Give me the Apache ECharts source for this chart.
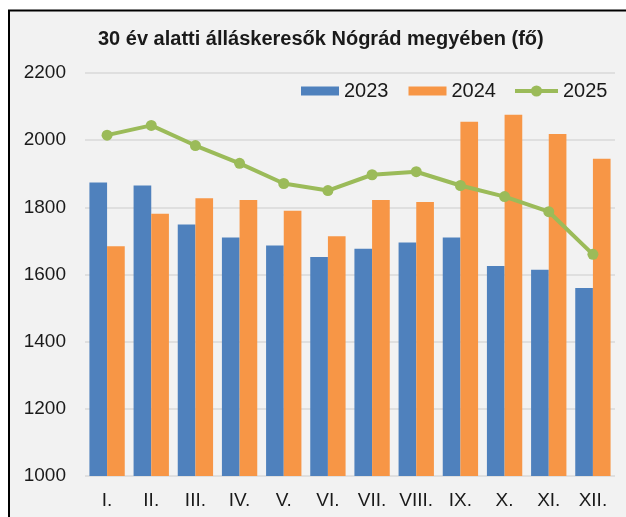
<!DOCTYPE html>
<html>
<head>
<meta charset="utf-8">
<script src="https://cdn.jsdelivr.net/npm/echarts@6/dist/echarts.min.js"></script>
<style>html,body{margin:0;padding:0;background:#fff}#c{width:626px;height:517px}</style>
</head>
<body>
<div id="c"></div>
<script>
var titleText = '30 év alatti álláskeresők Nógrád megyében (fő)';
var categories = ['I.', 'II.', 'III.', 'IV.', 'V.', 'VI.', 'VII.', 'VIII.', 'IX.', 'X.', 'XI.', 'XII.'];
var seriesNames = ['2023', '2024', '2025'];
var values2023 = [1874, 1865, 1749, 1710, 1686, 1652, 1677, 1695, 1710, 1625, 1614, 1560];
var values2024 = [1684, 1781, 1827, 1822, 1790, 1714, 1822, 1816, 2055, 2076, 2018, 1945];
var values2025 = [2015, 2044, 1984, 1931, 1871, 1850, 1897, 1906, 1865, 1832, 1787, 1660];
var yMin = 1000, yMax = 2200, yStep = 200;

var txt = '#1a1a1a';
var font = 'Liberation Sans, Arial, sans-serif';
var chart = echarts.init(document.getElementById('c'), null, {renderer: 'canvas'});
chart.setOption({
  backgroundColor: '#ffffff',
  animation: false,
  graphic: [
    {type: 'rect', z: -10, shape: {x: 9, y: 10.5, width: 640, height: 520}, style: {fill: '#f2f2f2', stroke: '#000', lineWidth: 2}}
  ],
  title: {
    text: titleText, left: 98, top: 29, padding: 0,
    textStyle: {fontFamily: font, fontSize: 20, fontWeight: 'bold', color: txt}
  },
  legend: [
    {
      left: 301, top: 81, padding: 0, itemWidth: 38, itemHeight: 9, itemGap: 20,
      data: [{name: seriesNames[0], icon: 'rect'}, {name: seriesNames[1], icon: 'rect'}],
      textStyle: {fontFamily: font, fontSize: 20, color: txt}
    },
    {
      left: 513, top: 81, padding: 0, itemWidth: 43, itemHeight: 14,
      lineStyle: {width: 4},
      data: [{name: seriesNames[2]}],
      textStyle: {fontFamily: font, fontSize: 20, color: txt}
    }
  ],
  grid: {left: 85, right: 11, top: 73, bottom: 41, containLabel: false},
  xAxis: {
    type: 'category', data: categories,
    axisLine: {show: false}, axisTick: {show: false},
    axisLabel: {fontFamily: font, fontSize: 19, color: txt, margin: 15}
  },
  yAxis: {
    type: 'value', min: yMin, max: yMax, interval: yStep,
    axisLine: {show: false}, axisTick: {show: false},
    axisLabel: {fontFamily: font, fontSize: 19, color: txt, margin: 19, formatter: function (v) { return String(v); }},
    splitLine: {lineStyle: {color: '#d9d9d9', width: 1.5}}
  },
  series: [
    {name: seriesNames[0], type: 'bar', data: values2023, barGap: '0%', barCategoryGap: '20%',
     itemStyle: {color: '#4f81bd'}},
    {name: seriesNames[1], type: 'bar', data: values2024, barGap: '0%', barCategoryGap: '20%',
     itemStyle: {color: '#f79646'}},
    {name: seriesNames[2], type: 'line', data: values2025, symbol: 'circle', symbolSize: 11,
     lineStyle: {color: '#9bbb59', width: 4}, itemStyle: {color: '#9bbb59'}, z: 5}
  ]
});
</script>
</body>
</html>
